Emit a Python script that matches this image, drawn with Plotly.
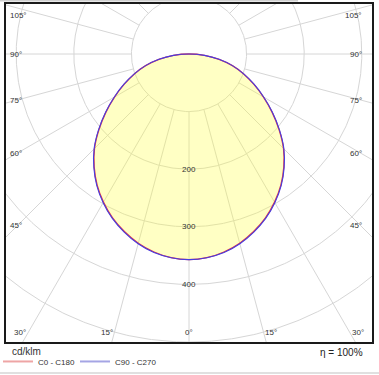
import numpy as np
import plotly.graph_objects as go

# ---------------- data ----------------
gamma_deg = [0, 5, 10, 15, 20, 25, 30, 35, 40, 45, 50, 55, 60, 65, 70, 75, 80, 85, 90]
c0_c180 = [357, 355, 349, 340, 328, 314, 297, 278, 256, 232, 204, 176, 149, 124, 101, 78, 53, 27, 0]
c90_c270 = [357, 355, 350, 341, 329, 315, 298, 279, 257, 233, 205, 177, 150, 125, 101, 78, 53, 27, 0]

ring_values = [100, 200, 300, 400, 500, 600]
ring_labels = [200, 300, 400]
spoke_angles = list(range(0, 360, 15))
angle_labels = [0, 15, 30, 45, 60, 75, 90, 105]
series_names = ["C0 - C180", "C90 - C270"]
unit_text = "cd/klm"
eta_text = "η = 100%"

# ---------------- view ----------------
X_MIN, X_MAX = -317.7, 317.7
Y_MIN, Y_MAX = -500.0, 86.8
PX = 1 / 0.576          # data units per pixel

GRID = "#d6d6d6"
FONT_FAMILY = "Liberation Sans, Arial, sans-serif"
LABEL_FONT = dict(family=FONT_FAMILY, size=8, color="#333333")


def curve_xy(vals):
    g = np.radians(np.array(gamma_deg, float))
    inten = np.array(vals, float)
    xr = inten * np.sin(g)
    yr = -inten * np.cos(g)
    x = np.concatenate([-xr[::-1], xr[1:]])
    y = np.concatenate([yr[::-1], yr[1:]])
    return x, y


fig = go.Figure()

# rings
t = np.linspace(0, 2 * np.pi, 721)
rx, ry = [], []
for r in ring_values:
    rx += list(r * np.sin(t)) + [None]
    ry += list(-r * np.cos(t)) + [None]
fig.add_trace(go.Scatter(x=rx, y=ry, mode="lines", line=dict(color=GRID, width=1),
                         hoverinfo="skip", showlegend=False))

# spokes (start at the first ring)
sx, sy = [], []
for a in spoke_angles:
    ar = np.radians(a)
    sx += [ring_values[0] * np.sin(ar), 800 * np.sin(ar), None]
    sy += [-ring_values[0] * np.cos(ar), -800 * np.cos(ar), None]
fig.add_trace(go.Scatter(x=sx, y=sy, mode="lines", line=dict(color=GRID, width=1),
                         hoverinfo="skip", showlegend=False))

# filled area
fx, fy = curve_xy(c0_c180)
fig.add_trace(go.Scatter(x=list(fx) + [fx[0]], y=list(fy) + [fy[0]], mode="lines",
                         fill="toself", fillcolor="rgba(255,255,60,0.30)",
                         line=dict(width=0, shape="spline", smoothing=1.0),
                         hoverinfo="skip", showlegend=False))

# curves
x0, y0 = curve_xy(c0_c180)
fig.add_trace(go.Scatter(x=x0, y=y0, mode="lines",
                         line=dict(color="rgb(225,60,70)", width=1.3, shape="spline", smoothing=1.0),
                         name=series_names[0], showlegend=False))
x1, y1 = curve_xy(c90_c270)
fig.add_trace(go.Scatter(x=x1, y=y1, mode="lines",
                         line=dict(color="rgb(70,60,225)", width=1.1, shape="spline", smoothing=1.0),
                         name=series_names[1], showlegend=False))

# legend entries (pale, as in the reference legend), one legend each for exact placement
fig.add_trace(go.Scatter(x=[None], y=[None], mode="lines", line=dict(color="rgb(238,165,165)", width=2),
                         name=series_names[0], legend="legend"))
fig.add_trace(go.Scatter(x=[None], y=[None], mode="lines", line=dict(color="rgb(165,165,228)", width=2),
                         name=series_names[1], legend="legend2"))

annotations = []
# ring labels
for v in ring_labels:
    annotations.append(dict(x=0, y=-v, text=str(v), showarrow=False, font=LABEL_FONT,
                            xanchor="center", yanchor="middle"))

# angle labels
for a in angle_labels:
    sides = [0] if a == 0 else [-1, 1]
    for s in sides:
        ar = np.radians(a)
        dx = s * np.sin(ar)
        dy = -np.cos(ar)
        tx = X_MAX / abs(dx) if dx != 0 else np.inf
        ty = (Y_MIN / dy) if dy < 0 else (Y_MAX / dy if dy > 0 else np.inf)
        if tx < ty:
            xe = s * (X_MAX - 11 * PX)
            ye = dy * (abs(xe) / abs(dx))
            ye = min(max(ye, Y_MIN + 10 * PX), Y_MAX - 11 * PX)
            xl = s * (X_MAX - 2 * PX) if s < 0 else X_MAX - 8 * PX
            xa = "left" if s < 0 else "right"
            annotations.append(dict(x=xl, y=ye, text=f"{a}°", showarrow=False, font=LABEL_FONT,
                                    xanchor=xa, yanchor="middle"))
        else:
            ye = Y_MIN + 10 * PX
            xe = dx * (ye / dy) if dy != 0 else 0
            xa = "center" if s == 0 else ("right" if s < 0 else "left")
            annotations.append(dict(x=xe, y=ye, text=f"{a}°", showarrow=False, font=LABEL_FONT,
                                    xanchor=xa, yanchor="middle"))

annotations.append(dict(xref="paper", yref="paper", x=0.981, y=-0.03, text=eta_text,
                        showarrow=False, xanchor="right", yanchor="middle",
                        font=dict(family=FONT_FAMILY, size=10, color="#222")))
annotations.append(dict(xref="paper", yref="paper", x=0.011, y=-0.027, text=unit_text,
                        showarrow=False, xanchor="left", yanchor="middle",
                        font=dict(family=FONT_FAMILY, size=10, color="#333")))

shapes = [
    dict(type="line", xref="paper", yref="paper", x0=-0.02, x1=1.03, y0=-0.0917, y1=-0.0917,
         line=dict(color="#e0e0e0", width=2)),
    dict(type="line", xref="paper", yref="paper", x0=-0.02, x1=0.798, y0=1.0104, y1=1.0104,
         line=dict(color="#cfcfcf", width=2)),
]

axis_common = dict(showgrid=False, zeroline=False, showticklabels=False, ticks="",
                   showline=True, mirror=True, linecolor="#1a1a1a", linewidth=1.5, fixedrange=True)

legend_common = dict(orientation="h", xanchor="left", yanchor="top", bgcolor="rgba(0,0,0,0)",
                     borderwidth=0, font=dict(family=FONT_FAMILY, size=8, color="#333"))

fig.update_layout(
    width=379, height=375,
    margin=dict(l=6, r=7, t=4, b=33, autoexpand=False),
    paper_bgcolor="white", plot_bgcolor="white",
    xaxis=dict(range=[X_MIN, X_MAX], **axis_common),
    yaxis=dict(range=[Y_MIN, Y_MAX], **axis_common),
    annotations=annotations,
    shapes=shapes,
    showlegend=True,
    legend=dict(x=-0.0219, y=-0.0147, **legend_common),
    legend2=dict(x=0.1885, y=-0.0147, **legend_common),
    font=dict(family=FONT_FAMILY),
)

fig.write_html("out.html", config={"displayModeBar": False},
               post_script="document.body.style.margin='0px';document.body.style.overflow='hidden';")
